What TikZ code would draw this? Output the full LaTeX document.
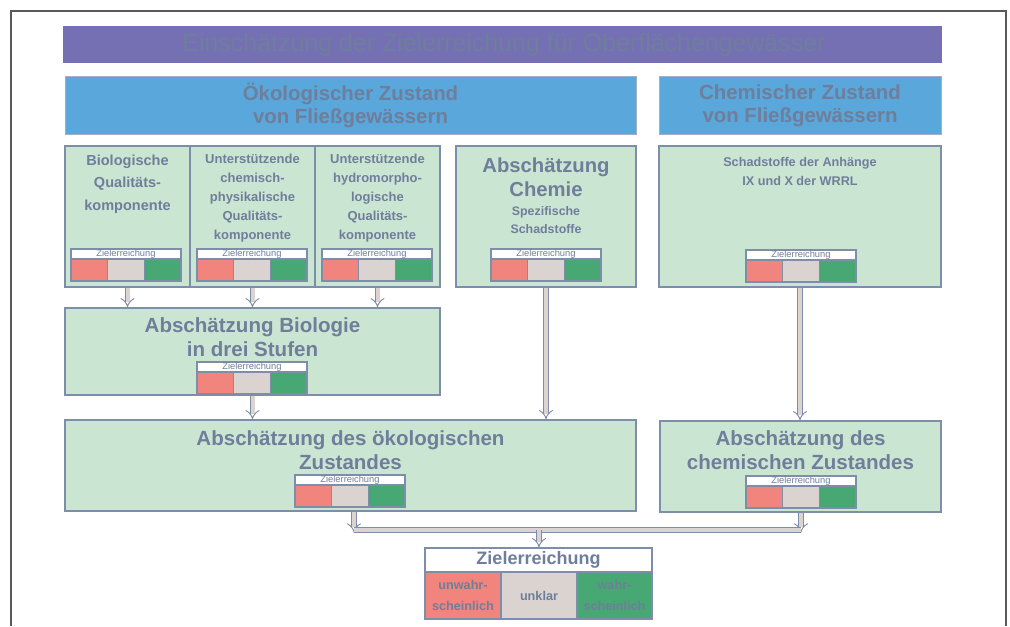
\documentclass[tikz,border=0pt]{standalone}
\usepackage{fontspec}
\setmainfont{Liberation Sans}
\usetikzlibrary{fit,arrows.meta}

\definecolor{titellila}{HTML}{7570B3}
\definecolor{kopfblau}{HTML}{5AA7DC}
\definecolor{mint}{HTML}{CBE5D3}
\definecolor{rahmen}{HTML}{7D8DAA}
\definecolor{schrift}{HTML}{6E7E9B}
\definecolor{zrot}{HTML}{F2847E}
\definecolor{zgrau}{HTML}{DAD3D0}
\definecolor{zgruen}{HTML}{47A873}

\tikzset{
  kasten/.style={draw=rahmen, fill=mint, line width=0.9pt, inner sep=0pt},
  kopf/.style={draw=rahmen!70, fill=kopfblau, line width=0.6pt, inner sep=0pt},
  titel/.style={fill=titellila, inner sep=0pt},
  feld/.style={draw=rahmen, line width=0.9pt, inner sep=0pt},
  txt/.style={text=schrift, align=center, inner sep=0pt},
  pipe/.style={draw=rahmen, line width=0.7pt, double=zgrau, double distance=3pt},
}

% Zielerreichung-Anzeige: #1 name, #2 x links, #3 y oben
\newcommand{\zielanzeige}[3]{%
  \node[feld, fill=white, fit={(#2,#3) (#2+110,#3+10)}] (#1k) {};
  \node[txt, font=\fontsize{7}{8}\selectfont] (#1t) at (#1k.center) {Zielerreichung};
  \node[feld, fill=zrot, fit={(#2,#3+10) (#2+36.7,#3+32)}] (#1r) {};
  \node[feld, fill=zgrau, fit={(#2+36.7,#3+10) (#2+73.3,#3+32)}] (#1u) {};
  \node[feld, fill=zgruen, fit={(#2+73.3,#3+10) (#2+110,#3+32)}] (#1g) {};
}

\newcommand{\gross}{\fontsize{15.4}{18}\selectfont\bfseries}

\begin{document}
\begin{tikzpicture}[x=0.75pt,y=0.75pt,yscale=-1,xscale=1]
\useasboundingbox (0,0) rectangle (1010,626);

%Rahmen
\draw[line width=1pt, black!65] (11,626) -- (11,11) -- (1006,11) -- (1006,626);

%Titel
\node[titel, fit={(63,26) (942,63)}] (titel) {};
\node[txt, font=\fontsize{18.7}{22}\selectfont] (titeltext) at (504,45) {Einschätzung der Zielerreichung für Oberflächengewässer};

%Kopfzeilen
\node[kopf, fit={(65,76) (636,134)}] (oekokopf) {};
\node[txt, font=\fontsize{15.3}{17.3}\selectfont\bfseries] (oekokopftext) at (350.5,105.5) {Ökologischer Zustand\\von Fließgewässern};
\node[kopf, fit={(659,76) (941,134)}] (chemkopf) {};
\node[txt, font=\fontsize{15.3}{17.3}\selectfont\bfseries] (chemkopftext) at (800,105.5) {Chemischer Zustand\\von Fließgewässern};

%Obere Reihe
\node[kasten, fit={(65,146) (190,287)}] (bio) {};
\node[kasten, fit={(190,146) (315,287)}] (chph) {};
\node[kasten, fit={(315,146) (440,287)}] (hydro) {};
\node[kasten, fit={(456,146) (636,287)}] (chemie) {};
\node[kasten, fit={(659,146) (941,287)}] (schad) {};

\node[txt, font=\fontsize{10.9}{17}\selectfont\bfseries] (biotext) at (127.5,184) {Biologische\\Qualitäts-\\komponente};
\node[txt, font=\fontsize{9.75}{14.3}\selectfont\bfseries] (chphtext) at (252.5,198) {Unterstützende\\chemisch-\\physikalische\\Qualitäts-\\komponente};
\node[txt, font=\fontsize{9.75}{14.3}\selectfont\bfseries] (hydrotext) at (377.5,198) {Unterstützende\\hydromorpho-\\logische\\Qualitäts-\\komponente};
\node[txt, font=\fontsize{15.2}{18}\selectfont\bfseries] (chemtitel) at (546,177) {Abschätzung\\Chemie};
\node[txt, font=\fontsize{9.3}{13.5}\selectfont\bfseries] (chemsub) at (546,220) {Spezifische\\Schadstoffe};
\node[txt, font=\fontsize{9.5}{14.3}\selectfont\bfseries] (schadtext) at (800,171.5) {Schadstoffe der Anhänge\\IX und X der WRRL};

\zielanzeige{bioz}{71}{249}
\zielanzeige{chphz}{197}{249}
\zielanzeige{hydroz}{322}{249}
\zielanzeige{chemiez}{491}{249}
\zielanzeige{schadz}{746}{250}

%Biologie
\node[kasten, fit={(65,308) (440,395)}] (biol) {};
\node[txt, font=\gross] (bioltext) at (252.5,337) {Abschätzung Biologie\\in drei Stufen};
\zielanzeige{biolz}{197}{362}

%Zustaende
\node[kasten, fit={(65,420) (636,511)}] (oeko) {};
\node[txt, font=\gross] (oekotext) at (350.5,450) {Abschätzung des ökologischen\\Zustandes};
\zielanzeige{oekoz}{295}{475}
\node[kasten, fit={(660,421) (941,512)}] (chemz) {};
\node[txt, font=\gross] (chemztext) at (800.5,450.5) {Abschätzung des\\chemischen Zustandes};
\zielanzeige{chemzz}{746}{476}

%Ergebnis
\node[feld, fill=white, fit={(425,548) (652,572)}] (ziel) {};
\node[txt, font=\fontsize{13.5}{16}\selectfont\bfseries] (zieltext) at (ziel.center) {Zielerreichung};
\node[feld, fill=zrot, fit={(425,572) (501,619)}] (zielrot) {};
\node[feld, fill=zgrau, fit={(501,572) (577,619)}] (zielgrau) {};
\node[feld, fill=zgruen, fit={(577,572) (652,619)}] (zielgruen) {};
\node[txt, font=\fontsize{9.5}{15.5}\selectfont\bfseries] (rottext) at (zielrot.center) {unwahr-\\scheinlich};
\node[txt, font=\fontsize{9.5}{15.5}\selectfont\bfseries] (grautext) at (zielgrau.center) {unklar};
\node[txt, font=\fontsize{9.5}{15.5}\selectfont\bfseries] (gruentext) at (zielgruen.center) {wahr-\\scheinlich};

%Pfeile
\draw[pipe, -{Implies}] (bio.south) -- (bio.south |- biol.north);
\draw[pipe, -{Implies}] (chph.south) -- (chph.south |- biol.north);
\draw[pipe, -{Implies}] (hydro.south) -- (hydro.south |- biol.north);
\draw[pipe, -{Implies}] (biol.south) -- (biol.south |- oeko.north);
\draw[pipe, -{Implies}] (chemie.south) -- (chemie.south |- oeko.north);
\draw[pipe, -{Implies}] (schad.south) -- (schad.south |- chemz.north);

\coordinate (links) at (354,530);
\coordinate (rechts) at (801,530);
\coordinate (mitte) at (539,530);
\draw[pipe, -{Implies}] (oeko.south -| links) -- ([yshift=2pt]links);
\draw[pipe, -{Implies}] (chemz.south -| rechts) -- ([yshift=2pt]rechts);
\draw[pipe] (links) -- (rechts);
\draw[pipe, -{Implies}] (mitte) -- (mitte |- ziel.north);

\end{tikzpicture}
\end{document}
